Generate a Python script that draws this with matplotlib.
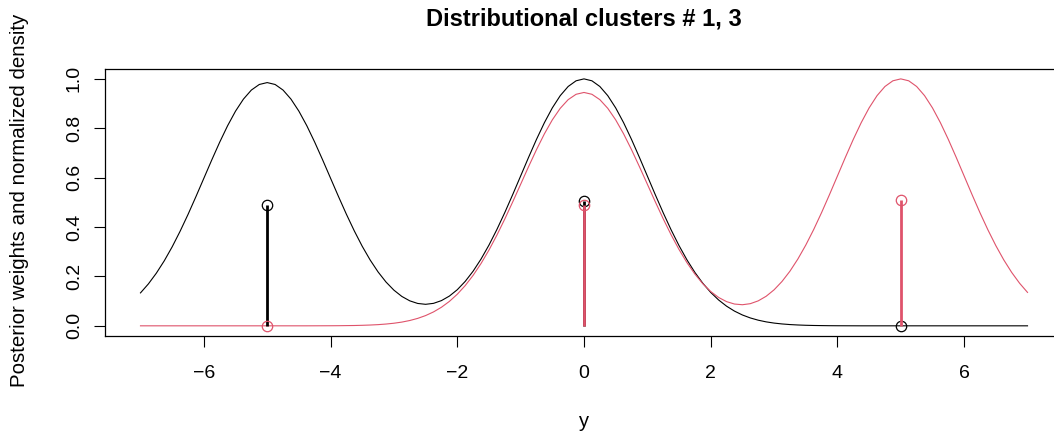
import matplotlib
matplotlib.use("Agg")
import matplotlib.pyplot as plt
import numpy as np

grid_start, grid_stop, grid_step = -7.0, 7.0, 0.125

black_density = [
    0.1333, 0.1698, 0.2131, 0.2631, 0.3198, 0.3828, 0.4509, 0.5231, 0.5974,
    0.6717, 0.7435, 0.8103, 0.8693, 0.9181, 0.9547, 0.9773, 0.9850,
    0.9773, 0.9547, 0.9181, 0.8693, 0.8104, 0.7436, 0.6719, 0.5977,
    0.5236, 0.4518, 0.3842, 0.3220, 0.2665, 0.2182, 0.1774, 0.1444,
    0.1190, 0.1012, 0.0906, 0.0871, 0.0910, 0.1021, 0.1204, 0.1462,
    0.1799, 0.2213, 0.2704, 0.3269, 0.3900, 0.4587, 0.5316, 0.6068,
    0.6821, 0.7549, 0.8226, 0.8825, 0.9321, 0.9692, 0.9922, 1.0000,
    0.9922, 0.9692, 0.9321, 0.8825, 0.8226, 0.7548, 0.6819, 0.6065,
    0.5311, 0.4578, 0.3886, 0.3247, 0.2671, 0.2163, 0.1724, 0.1353,
    0.1046, 0.0796, 0.0596, 0.0439, 0.0319, 0.0228, 0.0160, 0.0111,
    0.0076, 0.0051, 0.0034, 0.0022, 0.0014, 0.0009, 0.0005, 0.0003,
    0.0002, 0.0001,
    0.0, 0.0, 0.0, 0.0, 0.0, 0.0, 0.0, 0.0, 0.0, 0.0, 0.0,
    0.0, 0.0, 0.0, 0.0, 0.0, 0.0, 0.0, 0.0, 0.0, 0.0, 0.0,
]

red_density = [
    0.0, 0.0, 0.0, 0.0, 0.0, 0.0, 0.0, 0.0, 0.0, 0.0, 0.0,
    0.0, 0.0, 0.0, 0.0, 0.0, 0.0, 0.0, 0.0, 0.0, 0.0, 0.0,
    0.0001, 0.0002, 0.0003, 0.0005, 0.0009, 0.0013, 0.0021, 0.0032,
    0.0048, 0.0072, 0.0105, 0.0151, 0.0215, 0.0301, 0.0415, 0.0563,
    0.0752, 0.0988, 0.1279, 0.1629, 0.2044, 0.2524, 0.3068, 0.3672,
    0.4326, 0.5019, 0.5731, 0.6444, 0.7133, 0.7774, 0.8340, 0.8808,
    0.9159, 0.9376, 0.9450,
    0.9376, 0.9159, 0.8808, 0.8340, 0.7774, 0.7133, 0.6444, 0.5734,
    0.5024, 0.4335, 0.3686, 0.3090, 0.2558, 0.2095, 0.1705, 0.1390,
    0.1148, 0.0980, 0.0882, 0.0854, 0.0897, 0.1011, 0.1197, 0.1458,
    0.1796, 0.2211, 0.2703, 0.3268, 0.3899, 0.4587, 0.5316, 0.6068,
    0.6821, 0.7549, 0.8226, 0.8825, 0.9321, 0.9692, 0.9922, 1.0000,
    0.9922, 0.9692, 0.9321, 0.8825, 0.8226, 0.7548, 0.6819, 0.6065,
    0.5311, 0.4578, 0.3886, 0.3247, 0.2671, 0.2163, 0.1724, 0.1353,
]

# posterior weights at component locations
locations = [-5, 0, 5]
black_weights = [0.49, 0.505, 0.0]
red_weights = [0.0, 0.49, 0.51]

x_ticks = [-6, -4, -2, 0, 2, 4, 6]
y_ticks = [0.0, 0.2, 0.4, 0.6, 0.8, 1.0]

title = "Distributional clusters # 1, 3"
xlabel = "y"
ylabel = "Posterior weights and normalized density"

RED = "#DF536B"
plt.rcParams['font.family'] = ['Liberation Sans', 'DejaVu Sans']

grid = np.arange(grid_start, grid_stop + grid_step / 2, grid_step)

W, H = 1054, 434
fig = plt.figure(figsize=(W / 100, H / 100), dpi=100)
left, right, top, bottom = 105, 1063, 69, 335.7
ax = fig.add_axes([left / W, (H - bottom) / H, (right - left) / W, (bottom - top) / H])

ax.plot(grid, black_density, color="black", lw=0.8)
ax.plot(grid, red_density, color=RED, lw=0.8)

ax.vlines(locations, 0, black_weights, color="black", lw=2.0)
ax.plot(locations, black_weights, 'o', mfc='none', mec='black', ms=7.5, mew=0.9)
ax.vlines(locations, 0, red_weights, color=RED, lw=2.0)
ax.plot(locations, red_weights, 'o', mfc='none', mec=RED, ms=7.5, mew=0.9)

ax.set_xlim(-7.56, 7.56)
ax.set_ylim(-0.04, 1.04)
ax.set_xticks(x_ticks)
ax.set_xticklabels(["\u2212" + str(-t) if t < 0 else str(t) for t in x_ticks])
ax.set_yticks(y_ticks)
ax.set_yticklabels([f"{t:.1f}" for t in y_ticks], rotation=90, va='center')
ax.tick_params(direction='out', length=8, width=0.8, labelsize=14)
ax.tick_params(axis='x', pad=13)
ax.tick_params(axis='y', pad=8)
for s in ax.spines.values():
    s.set_linewidth(0.9)

fig.text(584 / W, 1 - 19 / H, title, ha='center', va='center', fontsize=17, fontweight='bold')
fig.text(584 / W, 1 - 427 / H, xlabel, ha='center', va='baseline', fontsize=14.5)
fig.text(20 / W, 1 - 200 / H, ylabel, ha='center', va='center', rotation=90, fontsize=14.8)

fig.savefig("out.png", dpi=100)
